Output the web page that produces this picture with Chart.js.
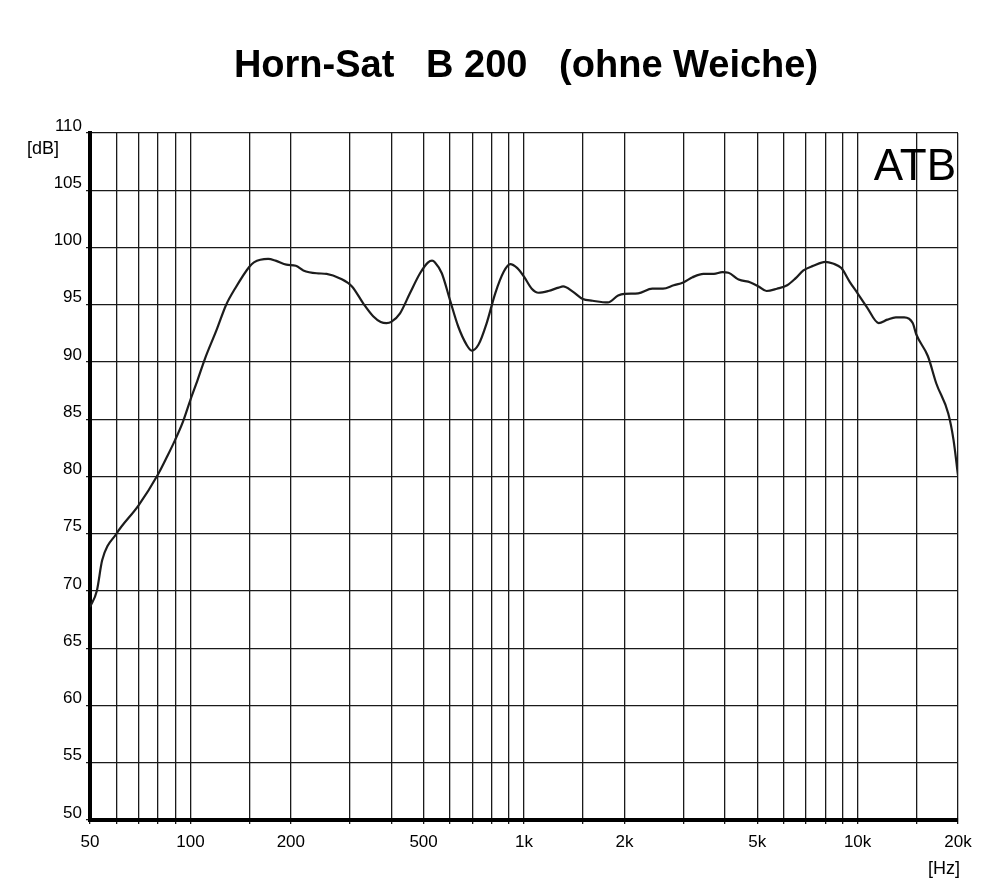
<!DOCTYPE html>
<html>
<head>
<meta charset="utf-8">
<title>Horn-Sat B 200 (ohne Weiche)</title>
<script src="https://cdn.jsdelivr.net/npm/chart.js@4"></script>
<style>
  html, body { margin: 0; padding: 0; background: #fff; }
  canvas { display: block; }
</style>
</head>
<body>
<canvas id="fg" width="1000" height="896"></canvas>
<script>
// frequency response
var freqs = [50, 52.4, 54.4, 60, 70, 80, 85, 90, 95, 100, 105, 110.6, 119.8, 128, 136, 150, 155, 171, 180, 194,
    207, 218, 239, 256, 281, 305, 330, 353, 372, 387, 400, 425, 455, 488, 516, 530, 541, 567, 600, 635, 673,
    697, 730, 773, 820, 870, 909, 955, 1000, 1055, 1105, 1183, 1270, 1310, 1400, 1500, 1606, 1785, 1915, 2000, 2200,
    2425, 2610, 2810, 3000, 3200, 3450, 3710, 3930, 4100, 4400, 4775, 5050, 5335, 5730, 6150, 6515, 6880, 7370, 8000, 8435,
    8940, 9470, 10000, 10660, 11570, 12280, 13020, 13800, 14630, 15000, 16250, 17230, 18700, 19390, 20000];
var levels = [68.6, 70, 72.7, 75, 77.5, 80.2, 81.7, 83.2, 84.8, 86.7, 88.4, 90.3, 92.8, 95.0, 96.4, 98.3, 98.7, 99.0, 98.85, 98.5,
    98.4, 98.0, 97.75, 97.7, 97.3, 96.6, 95.1, 94.0, 93.5, 93.4, 93.5, 94.25, 96.0, 97.75, 98.7, 98.85, 98.7, 97.75, 95.4, 93.1, 91.5,
    91.0, 91.5, 93.4, 96.0, 97.9, 98.55, 98.2, 97.45, 96.4, 96.05, 96.2, 96.5, 96.6, 96.15, 95.5, 95.35, 95.2, 95.8, 95.95, 96.0,
    96.4, 96.4, 96.7, 96.95, 97.4, 97.7, 97.7, 97.85, 97.8, 97.2, 96.95, 96.6, 96.2, 96.4, 96.7, 97.3, 98.0, 98.4, 98.75, 98.6,
    98.2, 97.0, 96.0, 94.8, 93.4, 93.7, 93.9, 93.9, 93.4, 92.4, 90.5, 88.1, 85.5, 83.2, 80.1];

// vertical grid lines and the labelled ones
var gridFreqs = [50, 60, 70, 80, 90, 100, 150, 200, 300, 400, 500, 600, 700, 800, 900,
    1000, 1500, 2000, 3000, 4000, 5000, 6000, 7000, 8000, 9000, 10000, 15000, 20000];
var labelFreqs = [50, 100, 200, 500, 1000, 2000, 5000, 10000, 20000];
var labelTexts = ['50', '100', '200', '500', '1k', '2k', '5k', '10k', '20k'];

var FONT = '"Liberation Sans", Arial, sans-serif';

var points = [];
for (var i = 0; i < freqs.length; i++) {
    points.push({ x: freqs[i], y: levels[i] });
}

// title, units and the ATB mark
var texts = {
    id: 'texts',
    afterDraw: function(chart) {
        var ctx = chart.ctx;
        var a = chart.chartArea;
        ctx.save();
        ctx.fillStyle = '#000';
        ctx.font = 'bold 38px ' + FONT;
        ctx.textAlign = 'center';
        ctx.textBaseline = 'alphabetic';
        ctx.fillText('Horn-Sat   B 200   (ohne Weiche)', 526, 77);

        ctx.font = '18px ' + FONT;
        ctx.textAlign = 'left';
        ctx.fillText('[dB]', 27, 154);
        ctx.textAlign = 'right';
        ctx.fillText('[Hz]', 960, 874);

        ctx.font = '44px ' + FONT;
        ctx.fillText('ATB', a.right - 2, a.top + 47);
        ctx.restore();
    }
};

new Chart(document.getElementById('fg'), {
    type: 'line',
    data: {
        datasets: [{
            data: points,
            borderColor: '#1c1c1c',
            borderWidth: 2.2,
            pointRadius: 0,
            cubicInterpolationMode: 'monotone',
            fill: false
        }]
    },
    options: {
        responsive: false,
        animation: false,
        layout: {
            padding: { top: 133, right: 42, bottom: 0, left: 0 }
        },
        plugins: {
            legend: { display: false },
            title: { display: false },
            tooltip: { enabled: false }
        },
        scales: {
            x: {
                type: 'logarithmic',
                min: 50,
                max: 20000,
                afterBuildTicks: function(scale) {
                    scale.ticks = gridFreqs.map(function(v) { return { value: v }; });
                },
                afterFit: function(scale) { scale.height = 76; },
                ticks: {
                    autoSkip: false,
                    maxRotation: 0,
                    color: '#000',
                    padding: 8,
                    font: { family: FONT, size: 17 },
                    callback: function(value) {
                        var k = labelFreqs.indexOf(value);
                        return k < 0 ? '' : labelTexts[k];
                    }
                },
                grid: { color: '#1a1a1a', lineWidth: 1.3, tickLength: 4 },
                border: { color: '#000', width: 4 }
            },
            y: {
                min: 50,
                max: 110,
                afterFit: function(scale) { scale.width = 90; },
                ticks: {
                    stepSize: 5,
                    color: '#000',
                    padding: 4,
                    labelOffset: -7,
                    font: { family: FONT, size: 17 }
                },
                grid: { color: '#1a1a1a', lineWidth: 1.3, tickLength: 4 },
                border: { color: '#000', width: 4 }
            }
        }
    },
    plugins: [texts]
});
</script>
</body>
</html>
